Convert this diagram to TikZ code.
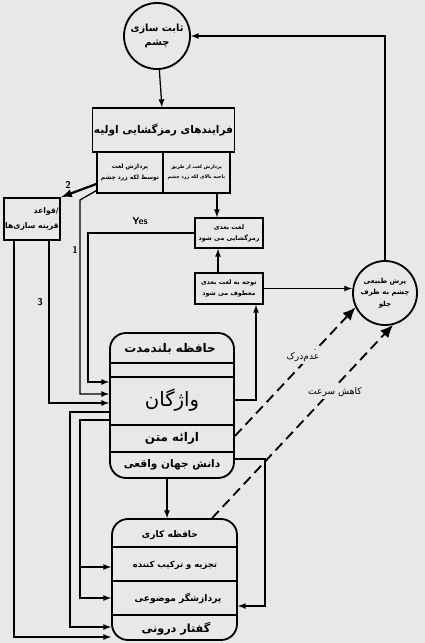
\documentclass[tikz,border=0pt]{standalone}
\usepackage{fontspec}
\newfontfamily\arabicfont[Script=Arabic]{DejaVu Sans}
\TeXXeTstate=1
\usetikzlibrary{calc}
\usetikzlibrary{arrows.meta}
\tikzset{>=latex}
\colorlet{bgcol}{black!9}
\newcommand{\fa}[1]{\beginR #1\endR}
\newcommand{\fs}[1]{\fontsize{#1}{#1}\selectfont}
\tikzstyle{box}=[draw,line width=1.3pt,inner sep=1pt,align=center,font=\arabicfont\bfseries\fs{5}]
\tikzstyle{eye}=[draw,circle,line width=1.3pt,inner sep=1pt,align=center,font=\arabicfont\bfseries\fs{5}]
\tikzstyle{memory}=[draw,line width=1.3pt,rounded corners=0.4cm,inner sep=0pt]
\tikzstyle{memtext}=[inner sep=0pt,font=\arabicfont\bfseries\fs{7}]
\tikzstyle{link}=[line width=0.9pt]
\tikzstyle{flow}=[line width=1.3pt,dash pattern=on 7pt off 4pt,-{Latex[length=9pt,width=8pt]}]
\tikzstyle{flowlabel}=[fill=bgcol,inner sep=1.5pt,font=\arabicfont\fs{6.5}]

\begin{document}
\begin{tikzpicture}[x=0.025cm,y=-0.025cm]
\useasboundingbox (0,0) rectangle (425,643);
\fill[bgcol] (0,0) rectangle (425,643);

\node[eye,minimum size=1.65cm,font=\arabicfont\bfseries\fs{7}] (fix) at (157,36) {\fa{ثابت سازی}\\[3pt]\fa{چشم}};
\node[eye,minimum size=1.6cm] (sacc) at (385,293) {\fa{پرش طبیعی}\\[2pt]\fa{چشم به طرف}\\[2pt]\fa{جلو}};

\node[box,minimum width=3.325cm,minimum height=1.1cm,font=\arabicfont\bfseries\fs{7.5}] (early) at (163.5,130) {\fa{فرایندهای رمزگشایی اولیه}};
\node[box,minimum width=1.65cm,minimum height=1.025cm,font=\arabicfont\bfseries\fs{4.2}] (subl) at (130,172.5) {\fa{پردازش لغت}\\[3pt]\fa{توسط لکه زرد چشم}};
\node[box,minimum width=1.675cm,minimum height=1.025cm,font=\arabicfont\bfseries\fs{3.4}] (subr) at (196.5,172.5) {\fa{پردازش لغت از طریق}\\[3pt]\fa{ناحیه بالای لکه زرد چشم}};

\node[box,minimum width=1.35cm,minimum height=1.05cm,align=right,font=\arabicfont\bfseries\fs{5.5}] (rules) at (32,219) {\fa{/قواعد}\\[4pt]\fa{قرینه سازی‌ها}};
\node[box,minimum width=1.7cm,minimum height=0.75cm,font=\arabicfont\bfseries\fs{4.5}] (dec) at (229,233) {\fa{لغت بعدی}\\[2pt]\fa{رمزگشایی می شود}};
\node[box,minimum width=1.7cm,minimum height=0.775cm,font=\arabicfont\bfseries\fs{4.5}] (att) at (229,288.5) {\fa{توجه به لغت بعدی}\\[2pt]\fa{معطوف می شود}};

\node[memory,minimum width=3.1cm,minimum height=3.625cm] (ltm) at (172,405.5) {};
\draw[line width=1.3pt] (ltm.west |- 0,363) -- (ltm.east |- 0,363);
\draw[line width=1.3pt] (ltm.west |- 0,377) -- (ltm.east |- 0,377);
\draw[line width=1.3pt] (ltm.west |- 0,425) -- (ltm.east |- 0,425);
\draw[line width=1.3pt] (ltm.west |- 0,452) -- (ltm.east |- 0,452);
\node[memtext,font=\arabicfont\bfseries\fs{8.5}] (ltmtitle) at (170,349) {\fa{حافظه بلندمدت}};
\node[memtext,font=\arabicfont\fs{14}] (lex) at (172,400) {\fa{واژگان}};
\node[memtext,font=\arabicfont\bfseries\fs{8.5}] (text) at (172,438) {\fa{ارائه متن}};
\node[memtext,font=\arabicfont\bfseries\fs{7.5}] (world) at (172,465) {\fa{دانش جهان واقعی}};

\node[memory,minimum width=3.125cm,minimum height=3.025cm] (wm) at (174.5,579.5) {};
\draw[line width=1.3pt] (wm.west |- 0,547) -- (wm.east |- 0,547);
\draw[line width=1.3pt] (wm.west |- 0,581) -- (wm.east |- 0,581);
\draw[line width=1.3pt] (wm.west |- 0,615) -- (wm.east |- 0,615);
\node[memtext,font=\arabicfont\bfseries\fs{6.5}] (wmtitle) at (170,535) {\fa{حافظه کاری}};
\node[memtext,font=\arabicfont\bfseries\fs{6}] (parse) at (175,565) {\fa{تجزیه و ترکیب کننده}};
\node[memtext,font=\arabicfont\bfseries\fs{6.5}] (topic) at (178,598) {\fa{پردازشگر موضوعی}};
\node[memtext,font=\arabicfont\bfseries\fs{8}] (inner) at (176,629) {\fa{گفتار درونی}};

\draw[link,->] (fix) -- (early);
\draw[link,->] (sacc.north) |- (fix.east);
\draw[link,->] ([xshift=0.51cm]subr.south) -- ([xshift=0.51cm]subr.south |- dec.north);
\draw[link,->] ([xshift=-0.275cm]att.north) -- ([xshift=-0.275cm]dec.south);
\draw[link,->] (att.east) -- (att.east -| sacc.west);
\draw[link,->] (ltm.east |- 0,400) -| ([xshift=0.675cm]att.south);

\draw[link,->] (dec.west) -| (88,382) -- (ltm.west |- 0,382);
\node[font=\sffamily\bfseries\fs{7}] (yes) at (140,221) {Yes};
\draw[line width=1.6pt,->] ([yshift=-0.29cm]subl.west) -- (rules.north east);
\node[font=\sffamily\bfseries\fs{7}] (two) at (68,185) {2};
\draw[link,->] ([yshift=0.08cm]subl.south west) -- (80,200) |- (ltm.west |- 0,394);
\node[font=\sffamily\bfseries\fs{7}] (one) at (75,250) {1};
\draw[link,->] ([xshift=0.425cm]rules.south) |- (ltm.west |- 0,403);
\node[font=\sffamily\bfseries\fs{7}] (three) at (40,302) {3};
\draw[link,->] ([xshift=-0.45cm]rules.south) |- (wm.west |- 0,637);

\draw[link,->] (ltm.west |- 0,412) -| (70,627) -- (wm.west |- 0,627);
\draw[link,->] (ltm.west |- 0,420) -| (80,598) -- (wm.west |- 0,598);
\draw[link,->] (80,567) -- (wm.west |- 0,567);
\draw[link,->] ([xshift=-0.125cm]ltm.south) -- ([xshift=-0.125cm]ltm.south |- wm.north);
\draw[link,->] (ltm.east |- 0,459) -| (265,606) -- (wm.east |- 0,606);

\draw[flow] (ltm.east |- 0,436) -- (sacc.206);
\draw[flow] ([xshift=0.94cm]wm.north) -- (sacc.284);
\node[flowlabel] (miss) at (303,357) {\fa{عدم‌درک}};
\node[flowlabel] (slow) at (335,392) {\fa{کاهش سرعت}};
\end{tikzpicture}
\end{document}
